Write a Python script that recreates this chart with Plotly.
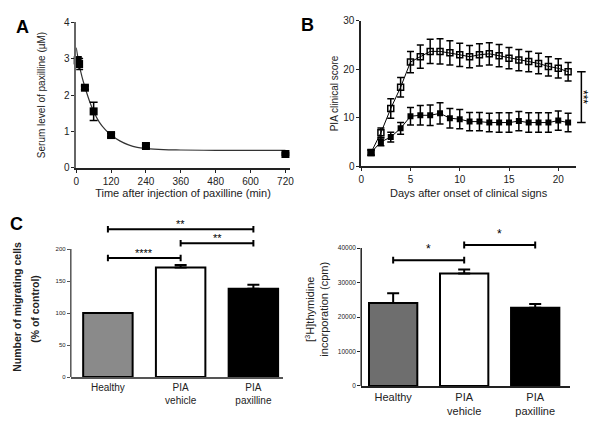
import plotly.graph_objects as go

FONT = "Liberation Sans, Arial, sans-serif"

# ---- Panel A data ----
a_time = [5, 10, 30, 60, 120, 240, 720]
a_level = [2.95, 2.85, 2.2, 1.55, 0.9, 0.6, 0.38]
a_err = [0.1, 0.15, 0.05, 0.25, 0.05, 0.05, 0.03]
a_fit_t = [0, 10, 20, 30, 45, 60, 80, 100, 120, 150, 180, 210, 240, 300, 360, 480, 600, 720]
a_fit_y = [3.3, 2.85, 2.5, 2.22, 1.85, 1.55, 1.25, 1.05, 0.9, 0.74, 0.63, 0.56, 0.53, 0.5, 0.49, 0.48, 0.48, 0.48]
a_xticks = [0, 120, 240, 360, 480, 600, 720]

# ---- Panel B data ----
b_days = list(range(1, 22))
b_vehicle = [2.8, 6.9, 11.9, 16.3, 21.5, 22.6, 23.7, 23.7, 23.4, 23.0, 22.6, 23.0, 23.2, 22.8,
             22.3, 21.9, 21.6, 21.2, 20.6, 20.2, 19.5]
b_vehicle_err = [0.6, 1.0, 2.0, 2.0, 2.2, 2.4, 2.5, 2.6, 2.5, 2.4, 2.3, 2.3, 2.3, 2.3,
                 2.2, 2.2, 2.1, 2.1, 2.0, 2.0, 1.9]
b_paxilline = [2.8, 5.0, 6.0, 7.8, 10.3, 10.5, 10.5, 10.9, 9.9, 9.7, 9.2, 9.2, 9.0, 9.0,
               9.0, 9.3, 9.0, 9.0, 9.0, 9.4, 9.0]
b_paxilline_err = [0.5, 0.8, 1.0, 1.2, 1.8, 2.0, 2.1, 2.2, 2.0, 2.0, 1.9, 1.9, 1.9, 2.0,
                   2.0, 2.0, 2.0, 2.0, 2.0, 2.0, 1.9]

# ---- Panel C data ----
groups = ["Healthy", "PIA<br>vehicle", "PIA<br>paxilline"]
c_values = [100, 171, 138]
c_err = [0, 4, 6]
c_sig = [(0, 1, 186, "****"), (1, 2, 209, "**"), (0, 2, 231, "**")]

# ---- Panel D data ----
d_values = [24100, 32600, 22700]
d_err = [2800, 1200, 1100]
d_sig = [(0, 1, 36500, "*"), (1, 2, 40900, "*")]

bar_colors_c = ["#8a8a8a", "white", "black"]
bar_colors_d = ["#6e6e6e", "white", "black"]

fig = go.Figure()

# Panel A
fig.add_trace(go.Scatter(x=a_fit_t, y=a_fit_y, mode="lines", line=dict(color="#333", width=1.2, shape="spline"),
                         xaxis="x", yaxis="y", hoverinfo="skip"))
fig.add_trace(go.Scatter(x=a_time, y=a_level, mode="markers",
                         marker=dict(symbol="square", size=8, color="black"),
                         error_y=dict(type="data", array=a_err, color="black", thickness=1.5, width=4),
                         cliponaxis=False, xaxis="x", yaxis="y"))

# Panel B
fig.add_trace(go.Scatter(x=b_days, y=b_vehicle, mode="lines+markers",
                         line=dict(color="black", width=1),
                         marker=dict(symbol="square-open", size=6, color="black", line=dict(width=1.5)),
                         error_y=dict(type="data", array=b_vehicle_err, color="black", thickness=1.5, width=3.5),
                         xaxis="x2", yaxis="y2"))
fig.add_trace(go.Scatter(x=b_days, y=b_paxilline, mode="lines+markers",
                         line=dict(color="black", width=1),
                         marker=dict(symbol="square", size=6, color="black"),
                         error_y=dict(type="data", array=b_paxilline_err, color="black", thickness=1.5, width=3.5),
                         xaxis="x2", yaxis="y2"))

# Panel C
fig.add_trace(go.Bar(x=[0, 1, 2], y=c_values, width=0.68,
                     marker=dict(color=bar_colors_c, line=dict(color="black", width=2)),
                     error_y=dict(type="data", array=c_err, arrayminus=[0, 0, 0], color="black",
                                  thickness=2, width=6),
                     xaxis="x3", yaxis="y3"))

# Panel D
fig.add_trace(go.Bar(x=[0, 1, 2], y=d_values, width=0.68,
                     marker=dict(color=bar_colors_d, line=dict(color="black", width=2)),
                     error_y=dict(type="data", array=d_err, arrayminus=[0, 0, 0], color="black",
                                  thickness=2, width=6),
                     xaxis="x4", yaxis="y4"))

ax_common = dict(showline=True, linecolor="#222", linewidth=1.5, ticks="outside", ticklen=3,
                 tickwidth=1.2, tickcolor="#222", showgrid=False, zeroline=False, automargin=False,
                 tickfont=dict(family=FONT, size=10, color="#222"))

shapes = []
annotations = []

# significance brackets C
for x0, x1, yv, txt in c_sig:
    shapes.append(dict(type="line", xref="x3", yref="y3", x0=x0, x1=x1, y0=yv, y1=yv,
                       line=dict(color="black", width=2)))
    for xe in (x0, x1):
        shapes.append(dict(type="line", xref="x3", yref="y3", x0=xe, x1=xe, y0=yv - 5, y1=yv + 5,
                           line=dict(color="black", width=2)))
    annotations.append(dict(xref="x3", yref="y3", x=(x0 + x1) / 2, y=yv, text=txt, showarrow=False,
                            yanchor="bottom", yshift=-3, font=dict(family=FONT, size=11, color="black")))
# C y-axis line (0..200)
shapes.append(dict(type="line", xref="x3 domain", yref="y3", x0=0, x1=0, y0=0, y1=200,
                   line=dict(color="#555", width=1.5)))

# significance brackets D
for x0, x1, yv, txt in d_sig:
    shapes.append(dict(type="line", xref="x4", yref="y4", x0=x0, x1=x1, y0=yv, y1=yv,
                       line=dict(color="black", width=2)))
    for xe in (x0, x1):
        shapes.append(dict(type="line", xref="x4", yref="y4", x0=xe, x1=xe, y0=yv - 1000, y1=yv + 1000,
                           line=dict(color="black", width=2)))
    annotations.append(dict(xref="x4", yref="y4", x=(x0 + x1) / 2, y=yv, text=txt, showarrow=False,
                            yanchor="bottom", yshift=2, font=dict(family=FONT, size=12, color="black")))
shapes.append(dict(type="line", xref="x4 domain", yref="y4", x0=0, x1=0, y0=0, y1=40000,
                   line=dict(color="#222", width=1.5)))

# B bracket
b_hi = b_vehicle[-1]
b_lo = b_paxilline[-1]
shapes.append(dict(type="line", xref="x2 domain", yref="y2", x0=1.025, x1=1.025, y0=b_lo, y1=b_hi,
                   line=dict(color="black", width=1.5)))
for yv in (b_lo, b_hi):
    shapes.append(dict(type="line", xref="x2 domain", yref="y2", x0=1.005, x1=1.045, y0=yv, y1=yv,
                       line=dict(color="black", width=1.5)))
annotations.append(dict(xref="x2 domain", yref="y2", x=1.075, y=(b_lo + b_hi) / 2, text="***",
                        textangle=90, showarrow=False, font=dict(family=FONT, size=12, color="black")))

# C y-axis title (two lines, wide spacing as in the reference)
annotations.append(dict(xref="paper", yref="paper", x=17 / 600, y=0.28, xanchor="center", yanchor="middle",
                        text="<b>Number of migrating cells</b>",
                        textangle=-90, showarrow=False, font=dict(family=FONT, size=10.5, color="#222")))
annotations.append(dict(xref="paper", yref="paper", x=35 / 600, y=0.275, xanchor="center", yanchor="middle",
                        text="<b>(% of control)</b>",
                        textangle=-90, showarrow=False, font=dict(family=FONT, size=10.5, color="#222")))

# panel labels
for lbl, px, py in (("A", 0.037, 0.937), ("B", 0.513, 0.941), ("C", 0.028, 0.474)):
    annotations.append(dict(xref="paper", yref="paper", x=px, y=py, text="<b>%s</b>" % lbl,
                            xanchor="center", yanchor="middle",
                            showarrow=False, font=dict(family=FONT, size=18, color="black")))

title_font = dict(family=FONT, size=11, color="#222")

fig.update_layout(
    template="none",
    width=600, height=426, margin=dict(l=0, r=0, t=0, b=0, autoexpand=False),
    paper_bgcolor="white", plot_bgcolor="white", showlegend=False,
    xaxis=dict(ax_common, domain=[0.127, 0.483], range=[0, 735], tickvals=a_xticks, anchor="y",
               title=dict(text="Time after injection of paxilline (min)", font=title_font, standoff=0)),
    yaxis=dict(ax_common, domain=[0.606, 0.948], range=[0, 4], tickvals=[0, 1, 2, 3, 4], anchor="x",
               linecolor="#666",
               title=dict(text="Serum level of paxilline (µM)", font=dict(family=FONT, size=10, color="#222"),
                          standoff=16)),
    xaxis2=dict(ax_common, domain=[0.602, 0.96], range=[0, 21.8], tickvals=[0, 5, 10, 15, 20], anchor="y2",
                title=dict(text="Days after onset of clinical signs", font=title_font, standoff=5)),
    yaxis2=dict(ax_common, domain=[0.610, 0.951], range=[0, 30], tickvals=[0, 10, 20, 30], anchor="x2",
                title=dict(text="PIA clinical score", font=dict(family=FONT, size=10, color="#222"), standoff=3)),
    xaxis3=dict(ax_common, domain=[0.118, 0.472], range=[-0.51, 2.41], tickvals=[0, 1, 2], ticktext=groups,
                ticks="", anchor="y3", linecolor="#555",
                tickfont=dict(family=FONT, size=10, color="#222")),
    yaxis3=dict(ax_common, domain=[0.115, 0.483], range=[0, 245], tickvals=[0, 50, 100, 150, 200],
                anchor="x3", showline=False, tickcolor="#555",
                tickfont=dict(family=FONT, size=6, color="#222")),
    xaxis4=dict(ax_common, domain=[0.602, 0.95], range=[-0.45, 2.49], tickvals=[0, 1, 2], ticktext=groups,
                ticks="", anchor="y4", tickfont=dict(family=FONT, size=11, color="#222")),
    yaxis4=dict(ax_common, domain=[0.094, 0.454], range=[0, 44500], tickvals=[0, 10000, 20000, 30000, 40000],
                tickformat="d",
                anchor="x4", showline=False, tickfont=dict(family=FONT, size=6.5, color="#222"),
                title=dict(text="[<sup>3</sup>H]thymidine<br>incorporation (cpm)",
                           font=dict(family=FONT, size=11, color="#222"), standoff=6)),
    shapes=shapes, annotations=annotations,
)

fig.write_html("out.html", config={"displayModeBar": False},
               post_script="document.body.style.margin='0px';")
